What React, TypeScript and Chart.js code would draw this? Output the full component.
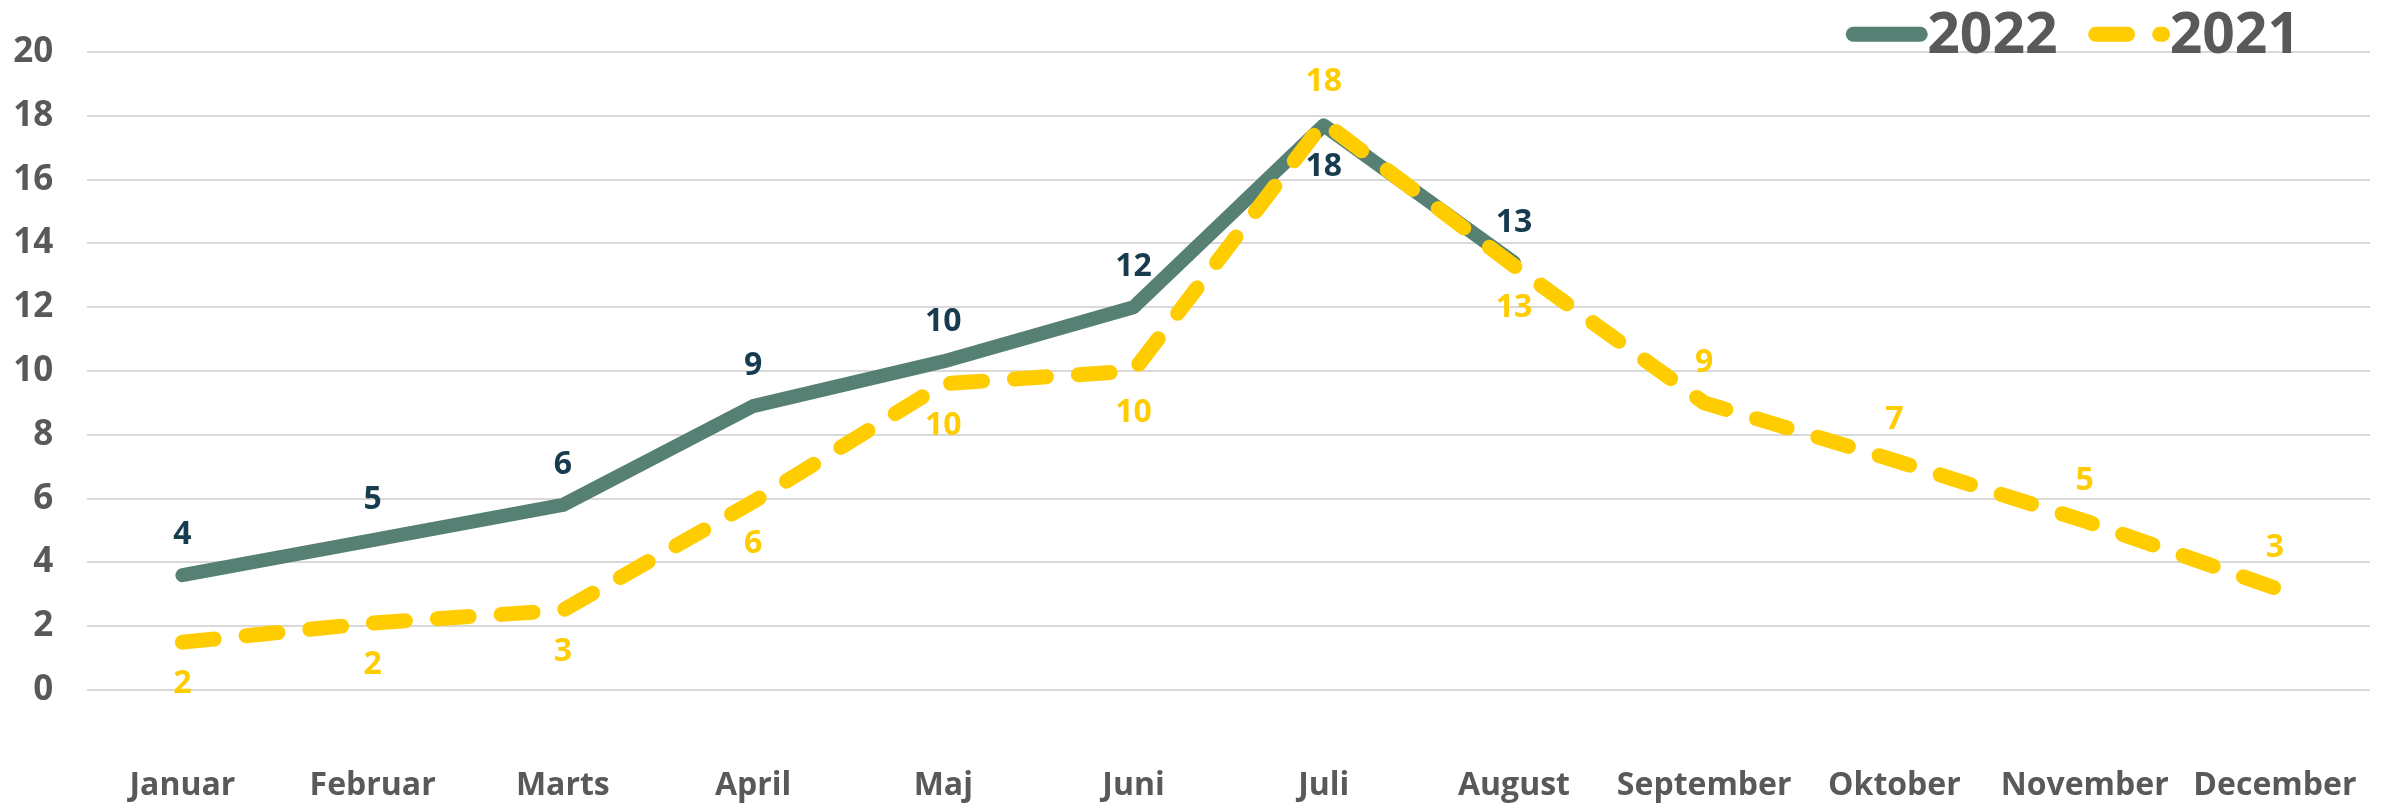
import React, { useEffect, useRef } from "react";
import { Chart, registerables } from "chart.js";

Chart.register(...registerables);

const months = [
  "Januar", "Februar", "Marts", "April", "Maj", "Juni",
  "Juli", "August", "September", "Oktober", "November", "December",
];
const values2022: (number | null)[] = [3.6, 4.7, 5.8, 8.9, 10.3, 12.0, 17.7, 13.4, null, null, null, null];
const values2021: number[] = [1.5, 2.1, 2.5, 5.9, 9.6, 10.0, 17.8, 13.3, 9.0, 7.2, 5.3, 3.2];
const labelPos2022 = ["above", "above", "above", "above", "above", "above", "below", "above", "above", "above", "above", "above"];
const labelPos2021 = ["below", "below", "below", "below", "below", "below", "above", "below", "above", "above", "above", "above"];
const seriesNames = ["2022", "2021"];

const GREEN = "#568074";
const YELLOW = "#FFCC00";
const NAVY = "#173b4f";
const GRAY = "#595959";
const FONT = "'Open Sans', 'Noto Sans', sans-serif";

const dataLabelPlugin = {
  id: "dataLabelPlugin",
  afterDatasetsDraw(chart: any) {
    const ctx = chart.ctx;
    ctx.save();
    ctx.font = `bold 32px ${FONT}`;
    ctx.textAlign = "center";
    ctx.textBaseline = "middle";
    chart.data.datasets.forEach((ds: any, i: number) => {
      const meta = chart.getDatasetMeta(i);
      ds.data.forEach((v: number | null, j: number) => {
        if (v === null || v === undefined) return;
        const el = meta.data[j];
        if (!el) return;
        const pos = ds.labelPos[j];
        const y = pos === "above" ? el.y - 40 : el.y + 42;
        ctx.fillStyle = ds.labelColor;
        ctx.fillText(String(Math.round(v)), el.x, y);
      });
    });
    ctx.restore();
  },
};

const legendPlugin = {
  id: "customLegend",
  afterDraw(chart: any) {
    const ctx = chart.ctx;
    ctx.save();
    ctx.font = `bold 57px ${FONT}`;
    ctx.textBaseline = "alphabetic";
    ctx.textAlign = "left";
    const baseY = 52.7;
    const lineY = 34.3;
    let right = chart.chartArea.right - 70;
    const items = seriesNames.map((name) => chart.data.datasets.find((d: any) => d.label === name));
    for (let k = items.length - 1; k >= 0; k--) {
      const ds = items[k];
      const tw = ctx.measureText(ds.label).width;
      const textX = right - tw;
      const lineEnd = textX - 7;
      const lineStart = lineEnd - 67;
      ctx.strokeStyle = ds.borderColor;
      ctx.lineWidth = 15;
      ctx.lineCap = "round";
      ctx.setLineDash(ds.borderDash || []);
      ctx.beginPath();
      ctx.moveTo(lineStart, lineY);
      ctx.lineTo(lineEnd, lineY);
      ctx.stroke();
      ctx.setLineDash([]);
      ctx.fillStyle = GRAY;
      ctx.fillText(ds.label, textX, baseY);
      right = lineStart - 38;
    }
    ctx.restore();
  },
};

export default function App() {
  const ref = useRef<HTMLCanvasElement | null>(null);
  useEffect(() => {
    if (!ref.current) return;
    const chart = new Chart(ref.current, {
      type: "line",
      data: {
        labels: months,
        datasets: [
          {
            label: "2022",
            data: values2022,
            borderColor: GREEN,
            backgroundColor: GREEN,
            borderWidth: 14,
            borderCapStyle: "round",
            borderJoinStyle: "round",
            pointRadius: 0,
            pointHoverRadius: 0,
            tension: 0,
            spanGaps: false,
            order: 2,
            labelPos: labelPos2022,
            labelColor: NAVY,
          } as any,
          {
            label: "2021",
            data: values2021,
            borderColor: YELLOW,
            backgroundColor: YELLOW,
            borderWidth: 15,
            borderDash: [32, 32],
            borderCapStyle: "round",
            borderJoinStyle: "round",
            pointRadius: 0,
            pointHoverRadius: 0,
            tension: 0,
            order: 1,
            labelPos: labelPos2021,
            labelColor: YELLOW,
          } as any,
        ],
      },
      options: {
        responsive: false,
        animation: false,
        layout: { padding: { top: 52, right: 12, left: 0, bottom: 0 } },
        plugins: {
          legend: { display: false },
          tooltip: { enabled: false },
          title: { display: false },
        },
        scales: {
          x: {
            offset: true,
            grid: { display: false, drawTicks: false },
            border: { display: false },
            ticks: {
              color: GRAY,
              font: { family: FONT, size: 32, weight: "bold" },
              padding: 77,
              maxRotation: 0,
              autoSkip: false,
            },
            afterFit(scale: any) {
              scale.height = 117;
              scale.paddingLeft = 0;
              scale.paddingRight = 0;
            },
          },
          y: {
            min: 0,
            max: 20,
            grid: { color: "#d9d9d9", lineWidth: 2, drawTicks: false },
            border: { display: false },
            ticks: {
              stepSize: 2,
              color: GRAY,
              font: { family: FONT, size: 35, weight: "bold" },
              padding: 34,
            },
            afterFit(scale: any) {
              scale.width = 87.3;
              scale.paddingTop = 0;
              scale.paddingBottom = 0;
            },
          },
        },
      },
      plugins: [dataLabelPlugin, legendPlugin],
    });
    return () => chart.destroy();
  }, []);
  return (
    <div style={{ position: "fixed", left: 0, top: 0 }}>
      <canvas ref={ref} width={2382} height={807} style={{ display: "block", width: 2382, height: 807 }} />
    </div>
  );
}
